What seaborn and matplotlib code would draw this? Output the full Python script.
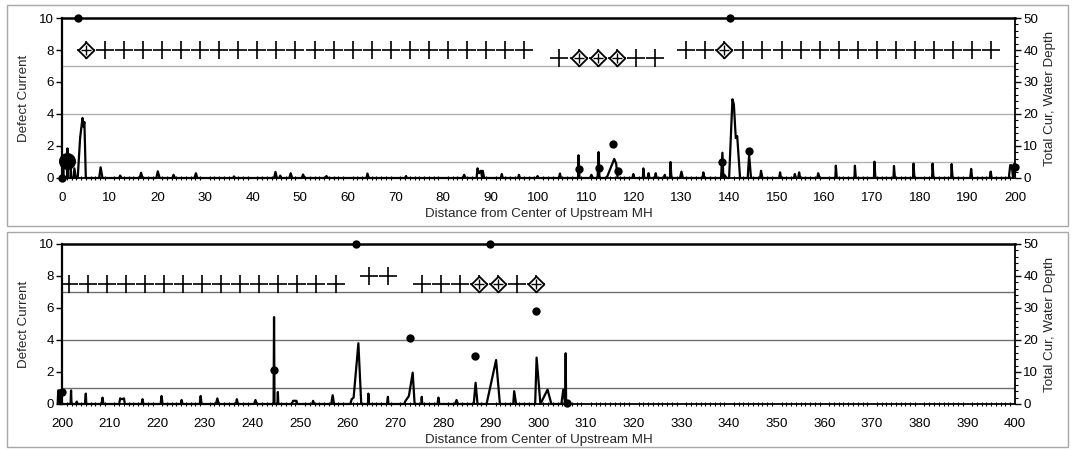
import matplotlib
matplotlib.use("Agg")
import matplotlib.pyplot as plt
from matplotlib.patches import Rectangle
from matplotlib.ticker import MultipleLocator
import seaborn as sns
import pandas as pd

# ---- data ----
# upper panel (0-200)
top_trace_x = [0, 0.3, 0.35, 1.1, 1.15, 1.25, 1.8, 1.85, 1.9, 2.4, 2.6, 2.9, 3.3, 3.8, 4.3, 4.5, 4.7, 5.0,
               7.8, 8.1, 8.5, 12.0, 12.2, 12.5, 16.3, 16.6, 16.9, 19.8, 20.1, 20.5, 23.2, 23.4, 23.7,
               27.8, 28.1, 28.4, 35.9, 36.1, 36.3, 44.5, 44.8, 45.1, 45.6, 45.8, 46.0, 47.7, 48.0, 48.3,
               50.3, 50.6, 50.9, 55.2, 55.5, 55.8, 63.9, 64.1, 64.4, 72.0, 72.2, 72.4, 84.1, 84.4, 84.7,
               87.0, 87.2, 87.5, 87.9, 88.2, 88.3, 88.6, 92.1, 92.3, 92.5, 95.7, 95.9, 96.1, 99.6, 99.8, 100.0,
               104.3, 104.5, 104.7, 108.3, 108.4, 108.6, 110.8, 111.1, 111.4, 112.4, 112.6, 112.8,
               114.3, 115.9, 116.3, 116.6, 119.7, 119.9, 120.1, 121.9, 122.0, 122.2, 122.9, 123.1, 123.3,
               124.4, 124.6, 124.8, 126.3, 126.5, 126.7, 127.6, 127.7, 127.9, 129.7, 130.0, 130.3,
               134.4, 134.6, 134.8, 138.3, 138.6, 138.8, 139.0, 139.5, 140.0, 140.7, 141.0, 141.4, 141.7, 142.3,
               143.9, 144.2, 144.6, 146.5, 146.7, 147.0, 150.5, 150.7, 150.9, 153.6, 153.8, 154.0, 154.5, 154.7, 154.9,
               158.5, 158.7, 159.0, 162.3, 162.4, 162.6, 166.3, 166.4, 166.6, 170.4, 170.5, 170.7,
               174.5, 174.6, 174.8, 178.6, 178.7, 178.9, 182.6, 182.7, 182.9, 186.6, 186.7, 186.9,
               190.6, 190.8, 191.0, 194.7, 194.9, 195.1, 198.7, 199.0, 199.3, 199.6, 199.9, 200.0]
top_trace_y = [0, 1.0, 0, 0, 1.85, 0, 0, 1.0, 0, 0, 0.6, 0, 0, 2.5, 3.75, 3.2, 3.5, 0,
               0, 0.67, 0, 0, 0.15, 0, 0, 0.33, 0, 0, 0.42, 0, 0, 0.2, 0,
               0, 0.3, 0, 0, 0.1, 0, 0, 0.38, 0, 0, 0.15, 0, 0, 0.3, 0,
               0, 0.22, 0, 0, 0.12, 0, 0, 0.28, 0, 0, 0.12, 0, 0, 0.2, 0,
               0, 0.6, 0.3, 0.45, 0, 0.45, 0, 0, 0.25, 0, 0, 0.2, 0, 0, 0.12, 0,
               0, 0.28, 0, 0, 1.42, 0, 0, 0.2, 0, 0, 1.62, 0,
               0, 1.19, 0.9, 0, 0, 0.25, 0, 0, 0.6, 0, 0, 0.3, 0,
               0, 0.3, 0, 0, 0.2, 0, 0, 1.0, 0, 0, 0.4, 0,
               0, 0.35, 0, 0, 1.58, 0, 0.2, 0, 0, 4.92, 4.6, 2.5, 2.62, 0,
               0, 1.45, 0, 0, 0.45, 0, 0, 0.35, 0, 0, 0.25, 0, 0, 0.35, 0,
               0, 0.3, 0, 0, 0.77, 0, 0, 0.77, 0, 0, 1.02, 0,
               0, 0.75, 0, 0, 0.9, 0, 0, 0.9, 0, 0, 0.87, 0,
               0, 0.57, 0, 0, 0.4, 0, 0, 0.8, 0.8, 0, 0.9, 0]
top_dot_x = [0, 3.4, 108.4, 112.6, 115.6, 116.6, 138.6, 140.2, 144.2, 199.9]
top_dot_y = [0, 10, 0.56, 0.6, 2.12, 0.44, 1.02, 10, 1.69, 0.7]
top_big_x = [1.0]
top_big_y = [1.05]
top_plus_x = [5, 9, 13, 17, 21, 25, 29, 33, 37, 41, 45, 49, 53, 57, 61, 65, 69, 73, 77, 81, 85, 89, 93, 97,
              104.4, 108.4, 112.4, 116.4, 120.4, 124.4,
              131, 135, 139, 143, 147, 151, 155, 159, 163, 167, 171, 175, 179, 183, 187, 191, 195]
top_plus_y = [8, 8, 8, 8, 8, 8, 8, 8, 8, 8, 8, 8, 8, 8, 8, 8, 8, 8, 8, 8, 8, 8, 8, 8,
              7.5, 7.5, 7.5, 7.5, 7.5, 7.5,
              8, 8, 8, 8, 8, 8, 8, 8, 8, 8, 8, 8, 8, 8, 8, 8, 8]
top_diam_x = [5, 108.4, 112.4, 116.4, 139]
top_diam_y = [8, 7.5, 7.5, 7.5, 8]

# lower panel (200-400)
bot_trace_x = [199.1, 199.2, 199.5, 199.6, 199.8, 199.9, 200.0, 201.8, 201.9, 202.0, 202.9, 203.1, 203.3,
               204.8, 205.0, 205.1, 208.3, 208.5, 208.7, 212.0, 212.2, 212.6, 213.0, 213.2,
               216.7, 216.9, 217.1, 220.7, 220.9, 221.1, 224.9, 225.1, 225.3, 228.9, 229.1, 229.3,
               232.3, 232.6, 232.9, 236.5, 236.7, 236.9, 240.3, 240.6, 240.9,
               244.4, 244.5, 244.6, 245.2, 245.3, 245.4, 248.2, 248.5, 249.2, 249.4, 252.5, 252.7, 252.9,
               256.5, 256.8, 257.1, 260.5, 260.8, 261.2, 262.2, 262.8, 264.2, 264.3, 264.4, 268.2, 268.4, 268.5,
               271.8, 272.1, 272.8, 273.6, 274.0, 275.4, 275.5, 275.6, 278.8, 279.0, 279.2, 282.5, 282.8, 283.1,
               286.4, 286.8, 287.2, 289.1, 291.1, 291.9, 294.7, 294.9, 295.3,
               299.3, 299.6, 300.4, 301.9, 302.7, 304.8, 305.2, 305.6, 305.7, 305.8, 306.0]
bot_trace_y = [0, 0.85, 0.85, 0, 0, 0.8, 0, 0, 0.85, 0, 0, 0.15, 0,
               0, 0.65, 0, 0, 0.4, 0, 0, 0.35, 0.3, 0.35, 0,
               0, 0.3, 0, 0, 0.5, 0, 0, 0.25, 0, 0, 0.5, 0,
               0, 0.35, 0, 0, 0.3, 0, 0, 0.25, 0,
               0, 5.43, 0, 0, 0.75, 0, 0, 0.2, 0.2, 0, 0, 0.2, 0,
               0, 0.55, 0, 0, 0.3, 0.4, 3.8, 0, 0, 0.65, 0, 0, 0.45, 0,
               0, 0.2, 0.5, 1.96, 0, 0, 0.45, 0, 0, 0.4, 0, 0, 0.25, 0,
               0, 1.33, 0, 0, 2.75, 0, 0, 0.8, 0,
               0, 2.9, 0, 0.9, 0, 0, 0.9, 0, 3.17, 0, 0]
bot_dot_x = [199.9, 244.5, 261.7, 273.0, 286.7, 289.8, 299.4, 305.9]
bot_dot_y = [0.73, 2.13, 10, 4.11, 3.02, 10, 5.84, 0.05]
bot_plus_x = [201.4, 205.4, 209.4, 213.4, 217.4, 221.4, 225.4, 229.4, 233.4, 237.4, 241.4, 245.4, 249.4, 253.4, 257.4,
              264.5, 268.5,
              275.5, 279.5, 283.5, 287.5, 291.5, 295.5, 299.5]
bot_plus_y = [7.5, 7.5, 7.5, 7.5, 7.5, 7.5, 7.5, 7.5, 7.5, 7.5, 7.5, 7.5, 7.5, 7.5, 7.5,
              8, 8,
              7.5, 7.5, 7.5, 7.5, 7.5, 7.5, 7.5]
bot_diam_x = [287.5, 291.5, 299.5]
bot_diam_y = [7.5, 7.5, 7.5]

ref_levels = [1, 4, 7]

sns.set_theme(style="white")
plt.rcParams['font.family'] = ['Liberation Sans', 'DejaVu Sans']
FS = 9.6


def draw_panel(ax, xlim, tx, ty, dx, dy, px, py, qx, qy, grid_color, big=None):
    for lv in ref_levels:
        ax.axhline(lv, color=grid_color, lw=1.0, zorder=1)
    trace = pd.DataFrame({"x": tx, "y": ty})
    sns.lineplot(data=trace, x="x", y="y", ax=ax, color="black", lw=1.6,
                 sort=False, estimator=None, clip_on=False, zorder=3)
    sns.scatterplot(x=px, y=py, ax=ax, marker="+", s=150, color="black", linewidth=1.2, zorder=4)
    ax.scatter(qx, qy, marker="D", s=64, facecolor="white", edgecolor="black", linewidth=1.3, zorder=5)
    ax.scatter(qx, qy, marker="+", s=45, color="black", linewidth=1.0, zorder=6)
    sns.scatterplot(x=dx, y=dy, ax=ax, marker="o", s=36, color="black", edgecolor="black",
                    linewidth=0, clip_on=False, zorder=7)
    if big is not None:
        sns.scatterplot(x=big[0], y=big[1], ax=ax, marker="o", s=150, color="black",
                        edgecolor="black", linewidth=0, clip_on=False, zorder=7)

    ax.set_xlim(*xlim)
    ax.set_ylim(0, 10)
    ax.set_xticks(range(xlim[0], xlim[1] + 1, 10))
    ax.xaxis.set_minor_locator(MultipleLocator(1))
    ax.set_yticks([0, 2, 4, 6, 8, 10])
    ax.tick_params(axis="x", which="major", direction="out", length=4, width=1, colors="black",
                   labelsize=FS, pad=6)
    ax.tick_params(axis="x", which="minor", direction="inout", length=3, width=0.8, colors="black", bottom=True)
    ax.tick_params(axis="y", which="major", direction="out", length=4, width=1, colors="black",
                   labelsize=FS, left=True, pad=2)
    for sp in ax.spines.values():
        sp.set_color("black")
        sp.set_linewidth(1.3)
    ax.spines["top"].set_linewidth(1.8)
    ax.spines["left"].set_linewidth(1.6)
    ax.set_xlabel("Distance from Center of Upstream MH", fontsize=FS, labelpad=3)
    ax.set_ylabel("Defect Current", fontsize=FS, labelpad=6)

    ax2 = ax.twinx()
    ax2.set_ylim(0, 50)
    ax2.set_yticks([0, 10, 20, 30, 40, 50])
    ax2.yaxis.set_minor_locator(MultipleLocator(2))
    ax2.tick_params(axis="y", which="major", direction="out", length=4, width=1, colors="black",
                    labelsize=FS, right=True, pad=2)
    ax2.tick_params(axis="y", which="minor", direction="out", length=2, width=0.8, colors="black", right=True)
    for sp in ax2.spines.values():
        sp.set_visible(False)
    ax2.set_ylabel("Total Cur, Water Depth", fontsize=FS, labelpad=4)
    ax2.grid(False)
    ax.grid(False)


fig = plt.figure(figsize=(10.72, 4.49), dpi=100)

# grey frames around each panel
fig.patches.append(Rectangle((7 / 1072, 1 - 226 / 449), 1061 / 1072, 221 / 449, transform=fig.transFigure,
                             fill=False, edgecolor="#a8a8a8", lw=1.0))
fig.patches.append(Rectangle((7 / 1072, 1 - 447 / 449), 1061 / 1072, 215 / 449, transform=fig.transFigure,
                             fill=False, edgecolor="#a8a8a8", lw=1.0))

ax_top = fig.add_axes([62 / 1072, 1 - 178 / 449, 953 / 1072, 160 / 449])
ax_bot = fig.add_axes([62 / 1072, 1 - 404 / 449, 953 / 1072, 160 / 449])

draw_panel(ax_top, (0, 200), top_trace_x, top_trace_y, top_dot_x, top_dot_y,
           top_plus_x, top_plus_y, top_diam_x, top_diam_y, "#b0b0b0", big=(top_big_x, top_big_y))
draw_panel(ax_bot, (200, 400), bot_trace_x, bot_trace_y, bot_dot_x, bot_dot_y,
           bot_plus_x, bot_plus_y, bot_diam_x, bot_diam_y, "#707070")

fig.savefig("out.png", dpi=100)
